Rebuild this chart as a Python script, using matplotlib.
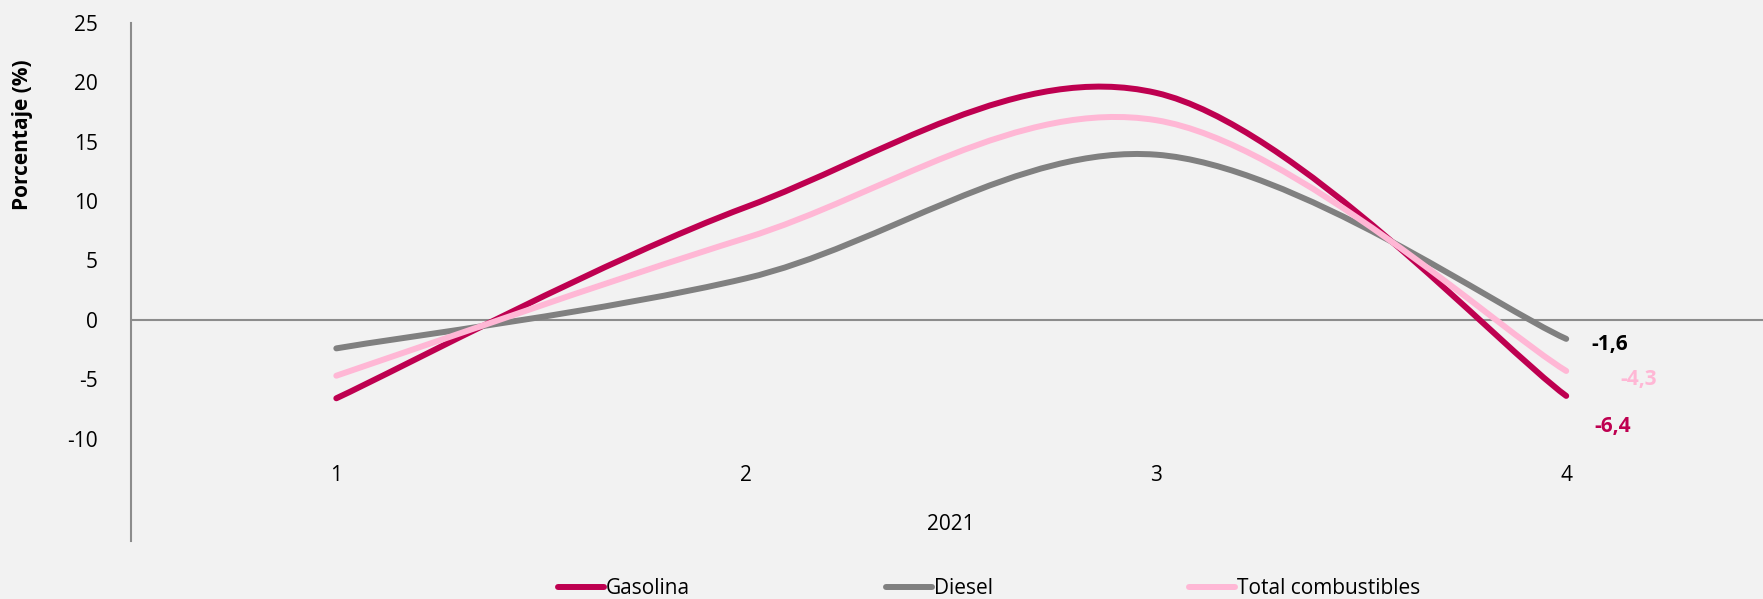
import matplotlib.pyplot as plt
import numpy as np
from matplotlib.path import Path
from matplotlib.patches import PathPatch
from matplotlib.lines import Line2D
from matplotlib.ticker import FuncFormatter

plt.rcParams['font.family'] = ['Open Sans', 'DejaVu Sans']

trimestres = [1, 2, 3, 4]
anio = '2021'
gasolina = [-6.6, 9.5, 19.1, -6.4]
diesel = [-2.4, 3.5, 13.9, -1.6]
total = [-4.7, 6.9, 16.8, -4.3]

c_gas = '#BE0050'
c_die = '#808080'
c_tot = '#FFB7D5'
fondo = '#F2F2F2'


def curva_suave(x, y):
    # suavizado tipo Excel (Catmull-Rom como Bezier cubico)
    x = np.asarray(x, float)
    y = np.asarray(y, float)
    n = len(x)
    verts = [(x[0], y[0])]
    codes = [Path.MOVETO]
    for i in range(n - 1):
        x0, y0 = (x[i - 1], y[i - 1]) if i > 0 else (x[i], y[i])
        x3, y3 = (x[i + 2], y[i + 2]) if i + 2 < n else (x[i + 1], y[i + 1])
        c1 = (x[i] + (x[i + 1] - x0) / 6, y[i] + (y[i + 1] - y0) / 6)
        c2 = (x[i + 1] - (x3 - x[i]) / 6, y[i + 1] - (y3 - y[i]) / 6)
        verts += [c1, c2, (x[i + 1], y[i + 1])]
        codes += [Path.CURVE4] * 3
    return Path(verts, codes)


def coma(v):
    return f'{v:.1f}'.replace('.', ',')


fig = plt.figure(figsize=(17.63, 5.99), dpi=100, facecolor=fondo)
ax = fig.add_axes([0.0745, 0.097, 0.9255, 0.865])
ax.set_facecolor(fondo)

ax.axhline(0, color='#8C8C8C', lw=1.5, zorder=1)
for serie, color in [(gasolina, c_gas), (diesel, c_die), (total, c_tot)]:
    ax.add_patch(PathPatch(curva_suave(trimestres, serie), fill=False,
                           edgecolor=color, lw=4.3, capstyle='round', zorder=3))

ax.set_xlim(0.5, 4.48)
ax.set_ylim(-18.6, 25)
ax.set_yticks(np.arange(-10, 26, 5))
ax.yaxis.set_major_formatter(FuncFormatter(lambda v, p: f'{v:.0f}'))
ax.tick_params(axis='y', length=0, labelsize=15, pad=24)
ax.set_xticks([])
for s in ['top', 'right', 'bottom']:
    ax.spines[s].set_visible(False)
ax.spines['left'].set_color('#8C8C8C')
ax.spines['left'].set_linewidth(1.5)

for t in trimestres:
    ax.text(t, -13.1, str(t), ha='center', va='center', fontsize=15)
ax.text(np.mean(trimestres), -17.2, anio, ha='center', va='center',
        fontsize=15, clip_on=False)

# etiquetas del ultimo valor
ax.annotate(coma(diesel[-1]), (trimestres[-1], diesel[-1]),
            xytext=(18, -4), textcoords='offset points', color='black',
            fontsize=15, fontweight='bold', va='center')
ax.annotate(coma(total[-1]), (trimestres[-1], total[-1]),
            xytext=(39, -6), textcoords='offset points', color=c_tot,
            fontsize=15, fontweight='bold', va='center')
ax.annotate(coma(gasolina[-1]), (trimestres[-1], gasolina[-1]),
            xytext=(20, -22), textcoords='offset points', color=c_gas,
            fontsize=15, fontweight='bold', va='center')

fig.text(0.0125, 0.775, 'Porcentaje (%)', rotation=90, ha='center', va='center',
         fontsize=15, fontweight='bold')

handles = [Line2D([], [], color=c, lw=4.3, solid_capstyle='round')
           for c in (c_gas, c_die, c_tot)]
fig.legend(handles, ['Gasolina', 'Diesel', 'Total combustibles'], ncol=3,
           loc='center', bbox_to_anchor=(0.561, 0.017), frameon=False,
           fontsize=15, handlelength=2.2, handletextpad=0.1, columnspacing=9.4)

fig.savefig('out.png', dpi=100, facecolor=fondo)
